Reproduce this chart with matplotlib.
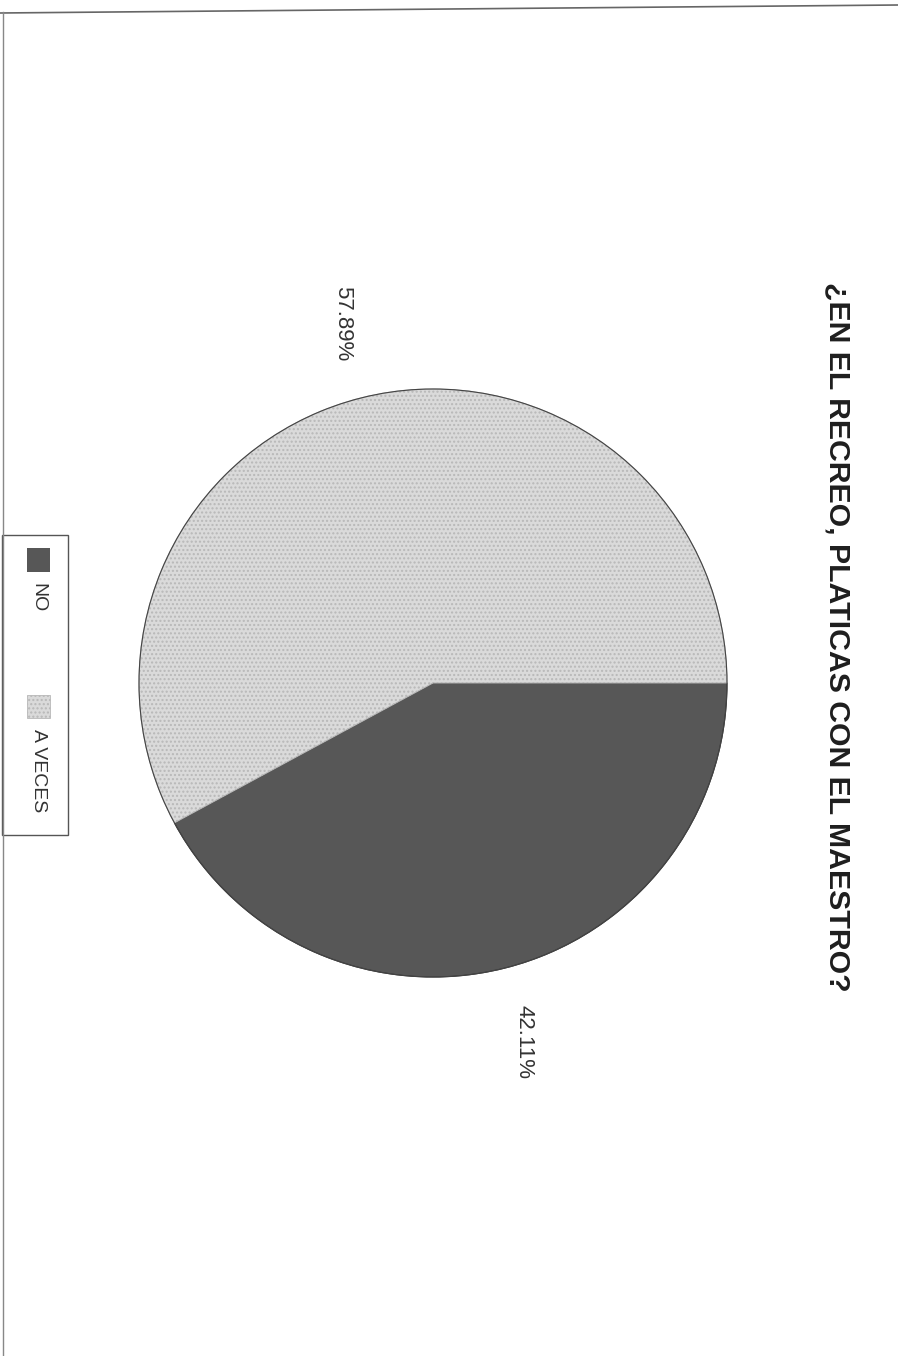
import matplotlib.pyplot as plt
from matplotlib.patches import Rectangle

# Survey answers
categories = ["NO", "A VECES"]
shares = [42.11, 57.89]
colors = ["#575757", "#dadada"]
title = "¿EN EL RECREO, PLATICAS CON EL MAESTRO?"

plt.rcParams["font.family"] = ["Liberation Sans", "DejaVu Sans"]

W, H = 898, 1356
fig = plt.figure(figsize=(W / 100, H / 100), dpi=100)
ax = fig.add_axes([0, 0, 1, 1])

# page is turned sideways, so the text reads top to bottom
wedges, texts = ax.pie(
    shares,
    labels=[f"{v:.2f}%" for v in shares],
    colors=colors,
    center=(433, 673),
    radius=294,
    startangle=0,
    counterclock=False,
    labeldistance=1.26,
    wedgeprops=dict(edgecolor="#333333", linewidth=0.8),
    textprops=dict(fontsize=16, color="#333333"),
    frame=True,
)
wedges[1].set_hatch("....")
wedges[1].set_edgecolor("#b8b8b8")
# outline over the hatched slice
ax.pie([100], colors=["none"], center=(433, 673), radius=294,
       wedgeprops=dict(edgecolor="#444444", linewidth=0.8, fill=False), frame=True)
for t in texts:
    t.set_rotation(-90)
    t.set_ha("center")
    t.set_va("center")
ax.set_xlim(0, W)
ax.set_ylim(0, H)
ax.axis("off")

ax.text(838, H - 637, title, rotation=-90, ha="center", va="center",
        fontsize=21.8, fontweight="bold", color="#1e1e1e")

# legend box
ax.add_patch(Rectangle((2, H - 835), 66, 300, facecolor="white",
                       edgecolor="#555555", linewidth=1))
ax.add_patch(Rectangle((27, H - 572), 23, 24, facecolor=colors[0], edgecolor="none"))
ax.text(38, H - 598, categories[0], rotation=-90, ha="center", va="center",
        fontsize=14, color="#333333")
ax.add_patch(Rectangle((27, H - 718), 23, 23, facecolor=colors[1], edgecolor="#b8b8b8",
                       hatch="....", linewidth=0.6))
ax.text(38, H - 771, categories[1], rotation=-90, ha="center", va="center",
        fontsize=14, color="#333333")

# edges of the scanned sheet
ax.plot([0, W], [H - 13, H - 5], color="#666666", linewidth=1.2)
ax.plot([3, 3], [0, H - 12], color="#888888", linewidth=1.0)

fig.savefig("out.png", dpi=100, facecolor="white")
